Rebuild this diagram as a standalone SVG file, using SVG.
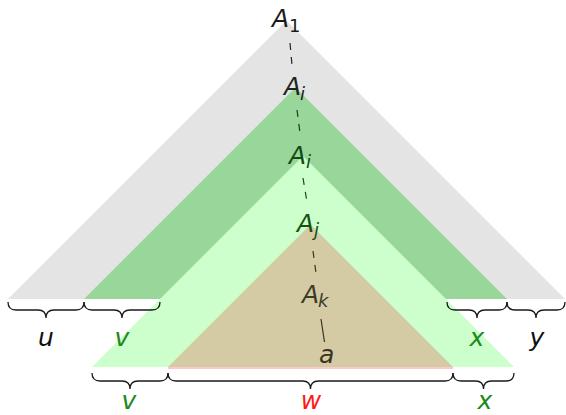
<svg xmlns="http://www.w3.org/2000/svg" width="566" height="415" viewBox="0 0 566 415">
<style>
  .lbl { font-family: "DejaVu Sans", "Liberation Sans", sans-serif; font-style: italic; font-size: 25px; }
  .sub { font-size: 18px; }
  .brace { fill: none; stroke: #1a1a1a; stroke-width: 1.3; }
  .dash { stroke-width: 1.2; stroke-dasharray: 7 7; fill: none; }
  .green { fill: #1a8a1a; }
</style>
<rect width="566" height="415" fill="#ffffff"/>
<g id="tri-gray"><polygon points="286.5,20.5 8,299 565,299" fill="#e4e4e4"/></g>
<g id="tri-darkgreen"><polygon points="295.5,87.5 84,299 507,299" fill="#99d699"/></g>
<g id="tri-lightgreen"><polygon points="303,156 92,367 514,367" fill="#ccffcc"/></g>
<g id="tri-tan"><polygon points="310.5,224.5 168,367 453,367" fill="#d4cba4"/>
<line x1="168" y1="368" x2="453" y2="368" stroke="#ffc8c8" stroke-width="2"/></g>

<g id="connectors">
  <line class="dash" x1="290" y1="43" x2="292" y2="65" stroke="#222222"/>
  <line class="dash" x1="297" y1="110" x2="300" y2="133" stroke="#1e3a1e"/>
  <line class="dash" x1="303" y1="178" x2="307" y2="202" stroke="#174a17"/>
  <line class="dash" x1="313" y1="251" x2="316" y2="273" stroke="#3a3522"/>
  <line x1="321" y1="319" x2="324.5" y2="342" stroke="#3a3522" stroke-width="1.2"/>
</g>

<g id="node-A1"><text class="lbl" x="272" y="27" fill="#1a1a1a">A<tspan class="sub" x="289" y="32" font-style="normal">1</tspan></text></g>
<g id="node-Ai1"><text class="lbl" x="284" y="95" fill="#202420">A<tspan class="sub" x="300" y="100">i</tspan></text></g>
<g id="node-Ai2"><text class="lbl" x="289" y="164" fill="#144a14">A<tspan class="sub" x="306" y="168">i</tspan></text></g>
<g id="node-Aj"><text class="lbl" x="297" y="232" fill="#145214">A<tspan class="sub" x="314" y="236">j</tspan></text></g>
<g id="node-Ak"><text class="lbl" x="302" y="303" fill="#3d3a26">A<tspan class="sub" x="318" y="307">k</tspan></text></g>
<g id="node-a"><text class="lbl" x="319" y="363" fill="#3a3420">a</text></g>

<g id="braces">
  <path class="brace" d="M8 302 Q8 310 16 310 L38 310 Q46 310 46 318 Q46 310 54 310 L76 310 Q84 310 84 302"/>
  <path class="brace" d="M84 302 Q84 310 92 310 L114 310 Q122 310 122 318 Q122 310 130 310 L152 310 Q160 310 160 302"/>
  <path class="brace" d="M447 302 Q447 310 455 310 L469 310 Q477 310 477 318 Q477 310 485 310 L499 310 Q507 310 507 302"/>
  <path class="brace" d="M507 302 Q507 310 515 310 L528 310 Q536 310 536 318 Q536 310 544 310 L557 310 Q565 310 565 302"/>
  <path class="brace" d="M92 373 Q92 381 100 381 L122 381 Q130 381 130 389 Q130 381 138 381 L160 381 Q168 381 168 373"/>
  <path class="brace" d="M168 373 Q168 381 176 381 L302.5 381 Q310.5 381 310.5 389 Q310.5 381 318.5 381 L445 381 Q453 381 453 373"/>
  <path class="brace" d="M453 373 Q453 381 461 381 L475.5 381 Q483.5 381 483.5 389 Q483.5 381 491.5 381 L506 381 Q514 381 514 373"/>
</g>

<g id="labels" text-anchor="middle">
  <text class="lbl" x="46" y="346" fill="#111111">u</text>
  <text class="lbl green" x="122" y="346">v</text>
  <text class="lbl green" x="477" y="346">x</text>
  <text class="lbl" x="537" y="346" fill="#111111">y</text>
  <text class="lbl green" x="129" y="409">v</text>
  <text class="lbl" x="311" y="409" fill="#ff1a1a">w</text>
  <text class="lbl green" x="485" y="409">x</text>
</g>
</svg>
